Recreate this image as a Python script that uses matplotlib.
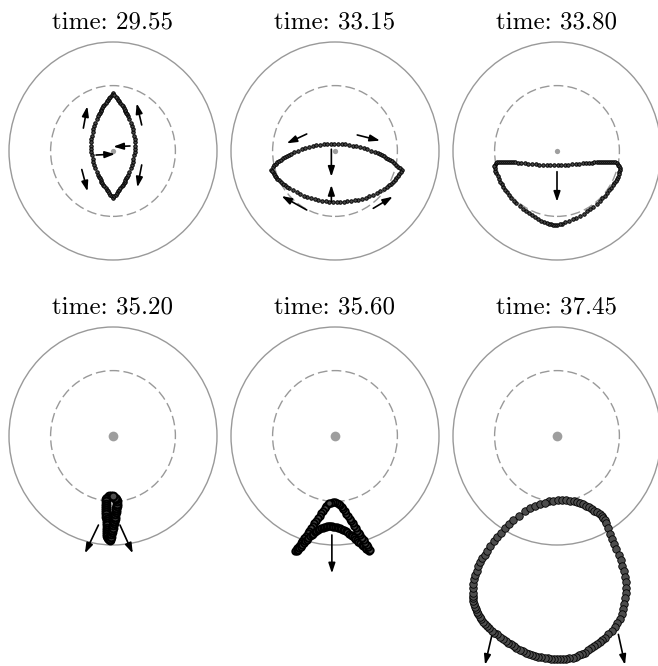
import matplotlib
matplotlib.use("Agg")
import matplotlib.pyplot as plt
from matplotlib.patches import Circle

times = ["29.55", "33.15", "33.80", "35.20", "35.60", "37.45"]

ring_1 = [(0.000, 0.530), (-0.013, 0.515), (-0.025, 0.500), (-0.037, 0.485), (-0.049, 0.470),
          (-0.060, 0.455), (-0.071, 0.440), (-0.082, 0.425), (-0.092, 0.410), (-0.102, 0.395),
          (-0.111, 0.380), (-0.119, 0.365), (-0.128, 0.350), (-0.136, 0.335), (-0.144, 0.320),
          (-0.158, 0.290), (-0.170, 0.260), (-0.180, 0.230), (-0.189, 0.200), (-0.197, 0.170),
          (-0.203, 0.140), (-0.207, 0.110), (-0.209, 0.080), (-0.210, 0.050), (-0.209, 0.020),
          (-0.207, -0.010), (-0.203, -0.040), (-0.197, -0.070), (-0.189, -0.100), (-0.180, -0.130),
          (-0.170, -0.160), (-0.158, -0.190), (-0.144, -0.220), (-0.136, -0.235), (-0.128, -0.250),
          (-0.119, -0.265), (-0.111, -0.280), (-0.102, -0.295), (-0.092, -0.310), (-0.082, -0.325),
          (-0.071, -0.340), (-0.060, -0.355), (-0.049, -0.370), (-0.037, -0.385), (-0.025, -0.400),
          (-0.013, -0.415), (0.000, -0.430),
          (0.013, -0.415), (0.025, -0.400), (0.037, -0.385), (0.049, -0.370), (0.060, -0.355),
          (0.071, -0.340), (0.082, -0.325), (0.092, -0.310), (0.102, -0.295), (0.111, -0.280),
          (0.119, -0.265), (0.128, -0.250), (0.136, -0.235), (0.144, -0.220), (0.158, -0.190),
          (0.170, -0.160), (0.180, -0.130), (0.189, -0.100), (0.197, -0.070), (0.203, -0.040),
          (0.207, -0.010), (0.209, 0.020), (0.210, 0.050), (0.209, 0.080), (0.207, 0.110),
          (0.203, 0.140), (0.197, 0.170), (0.189, 0.200), (0.180, 0.230), (0.170, 0.260),
          (0.158, 0.290), (0.144, 0.320), (0.136, 0.335), (0.128, 0.350), (0.119, 0.365),
          (0.111, 0.380), (0.102, 0.395), (0.092, 0.410), (0.082, 0.425), (0.071, 0.440),
          (0.060, 0.455), (0.049, 0.470), (0.037, 0.485), (0.025, 0.500), (0.013, 0.515)]

ring_2 = [(-0.615, -0.170), (-0.600, -0.150), (-0.585, -0.130), (-0.570, -0.115), (-0.555, -0.100),
          (-0.540, -0.090), (-0.520, -0.080), (-0.500, -0.068), (-0.480, -0.056), (-0.460, -0.045),
          (-0.440, -0.035), (-0.420, -0.025), (-0.390, -0.010), (-0.355, 0.003), (-0.320, 0.015),
          (-0.285, 0.027), (-0.250, 0.037), (-0.215, 0.045), (-0.180, 0.052), (-0.145, 0.057),
          (-0.110, 0.061), (-0.075, 0.064), (-0.040, 0.066), (-0.005, 0.066), (0.030, 0.065),
          (0.065, 0.063), (0.100, 0.060), (0.135, 0.056), (0.170, 0.050), (0.205, 0.043),
          (0.240, 0.035), (0.275, 0.025), (0.310, 0.014), (0.345, 0.002), (0.380, -0.010),
          (0.410, -0.022), (0.430, -0.030), (0.450, -0.040), (0.470, -0.050), (0.490, -0.062),
          (0.510, -0.074), (0.530, -0.085), (0.550, -0.095), (0.570, -0.108), (0.590, -0.125),
          (0.610, -0.145), (0.625, -0.160), (0.640, -0.170),
          (0.630, -0.190), (0.620, -0.210), (0.605, -0.230), (0.590, -0.250), (0.575, -0.270),
          (0.560, -0.285), (0.540, -0.300), (0.520, -0.315), (0.500, -0.330), (0.470, -0.350),
          (0.435, -0.370), (0.400, -0.387), (0.365, -0.402), (0.330, -0.415), (0.295, -0.427),
          (0.260, -0.437), (0.225, -0.446), (0.190, -0.453), (0.155, -0.458), (0.120, -0.462),
          (0.085, -0.465), (0.050, -0.467), (0.015, -0.467), (-0.020, -0.466), (-0.055, -0.464),
          (-0.090, -0.461), (-0.125, -0.457), (-0.160, -0.451), (-0.195, -0.444), (-0.230, -0.435),
          (-0.265, -0.424), (-0.300, -0.411), (-0.335, -0.397), (-0.370, -0.380), (-0.405, -0.362),
          (-0.440, -0.342), (-0.460, -0.330), (-0.480, -0.315), (-0.500, -0.300), (-0.520, -0.285),
          (-0.540, -0.270), (-0.555, -0.255), (-0.570, -0.240), (-0.580, -0.225), (-0.590, -0.210),
          (-0.600, -0.195), (-0.610, -0.180)]

ring_3 = [(-0.600, -0.125), (-0.590, -0.110), (-0.575, -0.102), (-0.560, -0.098), (-0.540, -0.097),
          (-0.520, -0.097), (-0.500, -0.098), (-0.480, -0.099), (-0.460, -0.100), (-0.440, -0.101),
          (-0.420, -0.103), (-0.400, -0.105), (-0.375, -0.107), (-0.345, -0.110), (-0.310, -0.113),
          (-0.275, -0.116), (-0.240, -0.119), (-0.205, -0.122), (-0.170, -0.124), (-0.135, -0.126),
          (-0.100, -0.127), (-0.065, -0.128), (-0.030, -0.128), (0.005, -0.128), (0.040, -0.127),
          (0.075, -0.126), (0.110, -0.124), (0.145, -0.122), (0.180, -0.120), (0.215, -0.117),
          (0.250, -0.114), (0.280, -0.111), (0.310, -0.108), (0.335, -0.106), (0.360, -0.104),
          (0.380, -0.102), (0.400, -0.100), (0.420, -0.099), (0.440, -0.098), (0.460, -0.097),
          (0.480, -0.097), (0.500, -0.097), (0.520, -0.098), (0.540, -0.100), (0.560, -0.105),
          (0.575, -0.112), (0.590, -0.125), (0.600, -0.140),
          (0.605, -0.155), (0.605, -0.175), (0.600, -0.195), (0.593, -0.215), (0.585, -0.235),
          (0.575, -0.255), (0.563, -0.275), (0.550, -0.295), (0.535, -0.315), (0.520, -0.335),
          (0.500, -0.360), (0.480, -0.385), (0.460, -0.410), (0.435, -0.435), (0.410, -0.460),
          (0.380, -0.485), (0.350, -0.510), (0.320, -0.535), (0.290, -0.555), (0.255, -0.575),
          (0.220, -0.595), (0.185, -0.612), (0.150, -0.627), (0.115, -0.641), (0.080, -0.655),
          (0.050, -0.666), (0.025, -0.674), (0.000, -0.679), (-0.020, -0.680), (-0.040, -0.678),
          (-0.060, -0.674), (-0.080, -0.668), (-0.100, -0.660), (-0.125, -0.650), (-0.150, -0.638),
          (-0.180, -0.622), (-0.210, -0.605), (-0.240, -0.588), (-0.270, -0.570), (-0.300, -0.550),
          (-0.330, -0.530), (-0.360, -0.505), (-0.390, -0.480), (-0.415, -0.455), (-0.440, -0.430),
          (-0.460, -0.405), (-0.480, -0.380), (-0.500, -0.355), (-0.515, -0.330), (-0.530, -0.305),
          (-0.545, -0.280), (-0.560, -0.255), (-0.572, -0.230), (-0.583, -0.205), (-0.592, -0.180),
          (-0.598, -0.160), (-0.602, -0.140)]

ring_4 = [(-0.020, -0.550), (-0.040, -0.555), (-0.055, -0.565), (-0.063, -0.580), (-0.066, -0.600),
          (-0.066, -0.620), (-0.065, -0.640), (-0.065, -0.660), (-0.064, -0.680), (-0.064, -0.700),
          (-0.063, -0.720), (-0.063, -0.740), (-0.062, -0.760), (-0.062, -0.780), (-0.061, -0.800),
          (-0.061, -0.820), (-0.060, -0.840), (-0.059, -0.860), (-0.058, -0.880), (-0.057, -0.900),
          (-0.055, -0.920), (-0.050, -0.935), (-0.042, -0.945), (-0.033, -0.950), (-0.025, -0.945),
          (-0.022, -0.930), (-0.017, -0.900), (-0.012, -0.880), (-0.007, -0.860), (-0.002, -0.840),
          (0.003, -0.820), (0.008, -0.800), (0.012, -0.780), (0.016, -0.760), (0.020, -0.740),
          (0.024, -0.720), (0.027, -0.700), (0.030, -0.680), (0.032, -0.660), (0.034, -0.640),
          (0.035, -0.620), (0.034, -0.600), (0.028, -0.580), (0.018, -0.565), (0.003, -0.553)]

ring_5 = [(-0.065, -0.620), (-0.082, -0.643), (-0.098, -0.665), (-0.115, -0.688), (-0.131, -0.711),
          (-0.148, -0.733), (-0.164, -0.756), (-0.181, -0.779), (-0.198, -0.801), (-0.214, -0.824),
          (-0.231, -0.846), (-0.247, -0.869), (-0.264, -0.892), (-0.280, -0.914), (-0.297, -0.937),
          (-0.314, -0.960), (-0.330, -0.982), (-0.347, -1.005), (-0.363, -1.027), (-0.375, -1.045),
          (-0.380, -1.055), (-0.370, -1.055),
          (-0.360, -1.045), (-0.345, -1.030), (-0.330, -1.014), (-0.315, -0.998), (-0.300, -0.982),
          (-0.285, -0.966), (-0.270, -0.951), (-0.255, -0.936), (-0.240, -0.922), (-0.225, -0.908),
          (-0.210, -0.895), (-0.195, -0.883), (-0.180, -0.872), (-0.165, -0.862), (-0.150, -0.853),
          (-0.135, -0.846), (-0.120, -0.840), (-0.105, -0.835), (-0.090, -0.832), (-0.075, -0.830),
          (-0.060, -0.829), (-0.045, -0.829), (-0.030, -0.830), (-0.015, -0.831), (0.000, -0.833),
          (0.015, -0.836), (0.030, -0.840), (0.045, -0.845), (0.060, -0.851), (0.075, -0.858),
          (0.090, -0.866), (0.105, -0.875), (0.120, -0.885), (0.135, -0.896), (0.150, -0.907),
          (0.165, -0.919), (0.180, -0.931), (0.195, -0.944), (0.210, -0.957), (0.225, -0.970),
          (0.240, -0.983), (0.255, -0.996), (0.270, -1.009), (0.285, -1.022), (0.300, -1.034),
          (0.315, -1.045), (0.328, -1.052), (0.335, -1.042),
          (0.320, -1.022), (0.305, -1.000), (0.290, -0.978), (0.275, -0.956), (0.260, -0.934),
          (0.245, -0.912), (0.230, -0.890), (0.215, -0.868), (0.200, -0.846), (0.185, -0.824),
          (0.170, -0.802), (0.155, -0.780), (0.140, -0.758), (0.125, -0.736), (0.110, -0.714),
          (0.095, -0.692), (0.080, -0.670), (0.065, -0.650), (0.050, -0.632), (0.035, -0.620),
          (0.020, -0.612), (0.000, -0.610), (-0.020, -0.610), (-0.040, -0.612), (-0.055, -0.615)]

ring_6 = [(-0.075, -0.600), (-0.035, -0.593), (0.005, -0.590), (0.045, -0.590), (0.085, -0.591),
          (0.125, -0.594), (0.160, -0.598), (0.190, -0.603), (0.220, -0.612), (0.250, -0.624),
          (0.280, -0.638), (0.310, -0.654), (0.335, -0.668), (0.360, -0.684), (0.385, -0.700),
          (0.410, -0.716), (0.430, -0.735), (0.445, -0.755), (0.457, -0.775), (0.468, -0.795),
          (0.490, -0.845), (0.512, -0.895), (0.532, -0.945), (0.552, -0.990), (0.572, -1.040),
          (0.593, -1.090), (0.612, -1.140), (0.628, -1.190), (0.642, -1.240), (0.653, -1.290),
          (0.660, -1.340), (0.663, -1.390), (0.662, -1.440), (0.656, -1.490), (0.647, -1.540),
          (0.636, -1.590), (0.621, -1.635), (0.602, -1.680), (0.580, -1.720), (0.555, -1.755),
          (0.525, -1.790), (0.495, -1.820), (0.460, -1.850), (0.435, -1.870), (0.410, -1.890),
          (0.385, -1.909), (0.358, -1.927), (0.330, -1.946), (0.300, -1.966), (0.270, -1.987),
          (0.240, -2.000), (0.210, -2.013), (0.180, -2.025), (0.150, -2.035), (0.120, -2.040),
          (0.090, -2.045), (0.060, -2.048), (0.030, -2.049), (0.000, -2.049), (-0.030, -2.047),
          (-0.060, -2.044), (-0.090, -2.041), (-0.120, -2.037), (-0.150, -2.032), (-0.180, -2.026),
          (-0.210, -2.021), (-0.240, -2.013), (-0.270, -2.000), (-0.300, -1.988), (-0.330, -1.977),
          (-0.360, -1.964), (-0.390, -1.945), (-0.415, -1.928), (-0.440, -1.912), (-0.468, -1.896),
          (-0.495, -1.878), (-0.522, -1.860), (-0.550, -1.840), (-0.578, -1.821), (-0.602, -1.803),
          (-0.625, -1.785), (-0.650, -1.765), (-0.672, -1.746), (-0.692, -1.724), (-0.710, -1.702),
          (-0.727, -1.680), (-0.743, -1.657), (-0.757, -1.636), (-0.768, -1.612), (-0.779, -1.588),
          (-0.789, -1.565), (-0.798, -1.544), (-0.803, -1.517), (-0.807, -1.490), (-0.809, -1.464),
          (-0.810, -1.438), (-0.808, -1.395), (-0.804, -1.355), (-0.795, -1.315), (-0.784, -1.275),
          (-0.770, -1.235), (-0.755, -1.195), (-0.737, -1.155), (-0.718, -1.120), (-0.697, -1.090),
          (-0.675, -1.058), (-0.640, -1.010), (-0.610, -0.962), (-0.573, -0.925), (-0.535, -0.888),
          (-0.497, -0.848), (-0.460, -0.806), (-0.420, -0.767), (-0.370, -0.730), (-0.310, -0.690),
          (-0.260, -0.665), (-0.210, -0.645), (-0.160, -0.628), (-0.115, -0.612)]

# velocity arrows: (x tail, y tail, x head, y head)
arrows_1 = [(-0.285, 0.210, -0.247, 0.410), (0.276, 0.239, 0.228, 0.437),
            (-0.300, -0.170, -0.245, -0.370), (0.276, -0.128, 0.234, -0.333),
            (0.163, 0.046, 0.003, 0.040), (-0.163, -0.037, 0.019, -0.028)]
arrows_2 = [(-0.272, 0.156, -0.464, 0.070), (0.214, 0.147, 0.433, 0.095),
            (-0.035, 0.016, -0.035, -0.236), (-0.035, -0.465, -0.035, -0.312),
            (-0.272, -0.541, -0.513, -0.413), (0.368, -0.526, 0.555, -0.419)]
arrows_3 = [(0.000, -0.190, 0.000, -0.465)]
arrows_4 = [(-0.140, -0.817, -0.270, -1.076), (0.067, -0.817, 0.190, -1.076)]
arrows_5 = [(-0.030, -0.908, -0.030, -1.260)]
arrows_6 = [(-0.628, -1.835, -0.692, -2.099), (0.590, -1.820, 0.654, -2.099)]

rings = [ring_1, ring_2, ring_3, ring_4, ring_5, ring_6]
arrows = [arrows_1, arrows_2, arrows_3, arrows_4, arrows_5, arrows_6]

outer_r = 1.0
inner_r = 0.6

# layout in pixels
W, H = 658, 666
sx, sy = 104.0, 109.0
centers = [(113, 151), (335, 151), (557, 151), (113, 436), (335, 436), (557, 436)]
ylims = [(-1.05, 1.05)] * 3 + [(-2.15, 1.05)] * 3
xlim = (-1.07, 1.07)
ring_ms = [2.5, 2.5, 2.5, 5.6, 4.6, 5.4]
ring_mew = [0.7, 0.7, 0.7, 1.5, 1.4, 0.6]
dot_ms = [3.8, 3.8, 3.8, 7.0, 7.0, 7.0]

fig = plt.figure(figsize=(W / 100, H / 100), dpi=100)

for i in range(6):
    cx, cy = centers[i]
    y0, y1 = ylims[i]
    w = (xlim[1] - xlim[0]) * sx
    h = (y1 - y0) * sy
    left = cx + xlim[0] * sx
    top = cy - y1 * sy
    ax = fig.add_axes([left / W, (H - top - h) / H, w / W, h / H])
    ax.set_xlim(*xlim)
    ax.set_ylim(y0, y1)
    ax.axis('off')

    ax.add_patch(Circle((0, 0), outer_r, fill=False, ec='0.6', lw=1.0))
    ax.add_patch(Circle((0, 0), inner_r, fill=False, ec='0.6', lw=1.0, ls=(0, (7, 3))))
    ax.plot([0], [0], 'o', color='0.62', ms=dot_ms[i], mec='none')

    xs = [p[0] for p in rings[i]]
    ys = [p[1] for p in rings[i]]
    ax.plot(xs, ys, 'o', ms=ring_ms[i], mfc='0.3', mec='k', mew=ring_mew[i], clip_on=False)

    for (xt, yt, xh, yh) in arrows[i]:
        ax.annotate('', xy=(xh, yh), xytext=(xt, yt),
                    arrowprops=dict(arrowstyle='-|>,head_length=0.6,head_width=0.2',
                                    color='k', lw=1.2, shrinkA=0, shrinkB=0),
                    annotation_clip=False)

    ax.set_title('time: ' + times[i], fontsize=18, family='cmr10', pad=6)

fig.savefig('out.png', dpi=100)
